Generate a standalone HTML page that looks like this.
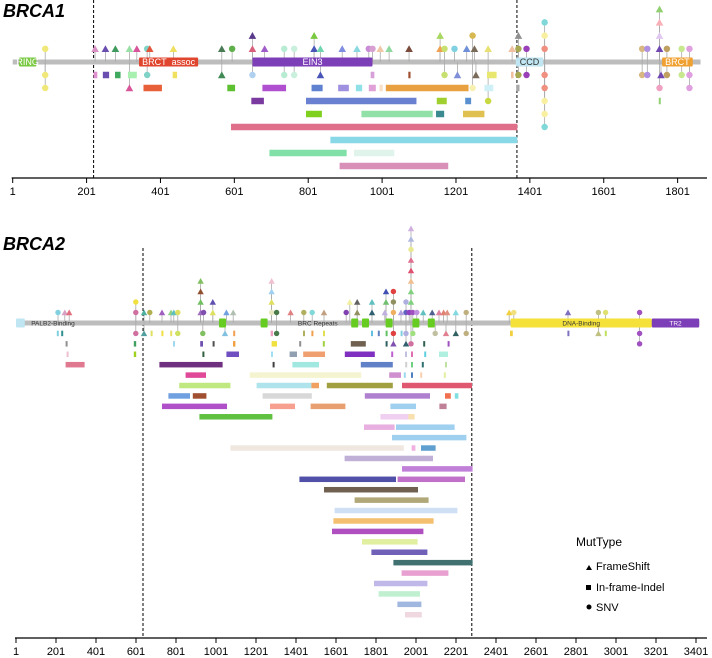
<!DOCTYPE html>
<html><head><meta charset="utf-8">
<style>
html,body{margin:0;padding:0;background:#fff;}
svg{display:block;font-family:"Liberation Sans",Arial,sans-serif;}
</style></head>
<body>
<svg id="chart" width="712" height="658" viewBox="0 0 712 658" xmlns="http://www.w3.org/2000/svg">
<text x="3" y="17" font-size="18" font-weight="bold" font-style="italic">BRCA1</text>
<text x="3" y="250" font-size="18" font-weight="bold" font-style="italic">BRCA2</text>
<g>
<text x="576" y="546" font-size="12">MutType</text>
<polygon points="586,570 592,570 589,565" fill="#000"/>
<text x="596" y="570" font-size="11">FrameShift</text>
<rect x="586" y="585" width="5" height="5" fill="#000"/>
<text x="596" y="591" font-size="11">In-frame-Indel</text>
<circle cx="589" cy="607" r="2.5" fill="#000"/>
<text x="596" y="611" font-size="11">SNV</text>
</g>
</svg>
<script>
const brca1Ticks = [1,201,401,601,801,1001,1201,1401,1601,1801];
const brca2Ticks = [1,201,401,601,801,1001,1201,1401,1601,1801,2001,2201,2401,2601,2801,3001,3201,3401];
const brca1Domains = [[18,65,'RING','#7ac943'],[343,503,'BRCT_assoc','#e0452e'],[650,975,'EIN3','#7d3fb8'],[1363,1437,'CCD','#bfe6f2'],[1759,1842,'BRCT','#f0a030']];
const brca2Domains = [[1,45,'','#bfe6f2'],[1016,1051,'','#66cc22'],[1224,1259,'','#66cc22'],[1677,1712,'','#66cc22'],[1731,1766,'','#66cc22'],[1849,1884,'','#66cc22'],[1983,2018,'','#66cc22'],[2060,2095,'','#66cc22'],[2474,3180,'DNA-Binding','#f4e23a'],[3180,3417,'TR2','#7d3fb8']];
const brca1Dashes = [220,1366];
const brca2Dashes = [636,2280];
const brca1Markers = [
[89,1,'c','#f0e878'],[224,1,'t','#d98fc3'],[252,1,'t','#6a4fb0'],[279,1,'t','#3f9a5e'],[317,1,'t','#98e0a6'],[337,1,'t','#d9559a'],[365,1,'c','#7fd3c6'],[372,1,'t','#e2563d'],[436,1,'t','#f0e060'],[567,1,'t','#4a7b55'],[595,1,'c','#5fb04a'],[650,1,'t','#d9607a'],[683,1,'t','#a05cc8'],[736,1,'c','#b7ecd3'],[763,1,'c','#c9f0dc'],[817,1,'t','#4a55b8'],[834,1,'t','#6fd6b0'],[893,1,'t','#7f8ee0'],[933,1,'t','#8ad8e0'],[965,1,'c','#c98ad8'],[975,1,'c','#d8a0d0'],[996,1,'t','#f0c8a8'],[1020,1,'t','#8fd8a0'],[1074,1,'t','#7a4a3a'],[1158,1,'t','#f0a050'],[1170,1,'c','#c8e070'],[1197,1,'c','#7fd0e0'],[1230,1,'t','#6f90d8'],[1251,1,'t','#7a6a5a'],[1288,1,'t','#e8e070'],[1353,1,'t','#f0c0a0'],[1370,1,'c','#a8a850'],[1392,1,'c','#9a40b8'],[1441,1,'c','#f09080'],[1705,1,'c','#d8b880'],[1719,1,'c','#b090e0'],[1752,1,'t','#7048b0'],[1772,1,'c','#c0a060'],[1812,1,'c','#c8e890'],[1833,1,'c','#e0a0e0'],
[650,2,'t','#5a3a8a'],[817,2,'t','#78c840'],[1158,2,'t','#a8d860'],[1246,2,'c','#d8b850'],[1370,2,'t','#909090'],[1441,2,'c','#f8f0a0'],[1752,2,'t','#e0c8f0'],
[1441,3,'c','#80d8d8'],[1752,3,'t','#f8b0b8'],[1752,4,'t','#90d070'],
[89,-1,'c','#f0e878'],[365,-1,'c','#7fd3c6'],[567,-1,'t','#3f8a55'],[650,-1,'c','#b0d0f0'],[736,-1,'c','#b7ecd3'],[763,-1,'c','#c9f0dc'],[834,-1,'t','#4a55b8'],[1170,-1,'c','#c8e070'],[1205,-1,'t','#7f90d8'],[1255,-1,'t','#7a6a5a'],[1370,-1,'c','#a8a850'],[1392,-1,'c','#9a40b8'],[1441,-1,'c','#f09080'],[1705,-1,'c','#d8b880'],[1719,-1,'c','#b090e0'],[1756,-1,'t','#7048b0'],[1772,-1,'c','#c0a060'],[1812,-1,'c','#c8e890'],[1833,-1,'c','#e0a0e0'],
[89,-2,'c','#f0e878'],[317,-2,'t','#d9559a'],[1246,-2,'c','#f8f0b0'],[1441,-2,'c','#f09080'],[1752,-2,'c','#f0a0c0'],[1833,-2,'c','#e0a0e0'],
[1288,-3,'c','#c8d840'],[1441,-3,'c','#f8f0a0'],[1441,-4,'c','#f8f0a0'],[1441,-5,'c','#80d8d8']];
const brca1Bars = [
[220,230,1,'#e090d0'],[245,262,1,'#6a4fb0'],[278,293,1,'#3faa5e'],[313,337,1,'#a8f0b0'],[434,446,1,'#f0e060'],[970,980,1,'#d8a0d8'],[1072,1078,1,'#a05030'],[1285,1311,1,'#e8e870'],[1350,1357,1,'#f0c0a0'],
[355,405,2,'#e8603a'],[582,603,2,'#5cc030'],[677,741,2,'#b050d0'],[810,840,2,'#6080d0'],[882,911,2,'#a090e0'],[930,947,2,'#90e0e8'],[965,984,2,'#e0a0d8'],[994,1003,2,'#f8e0c8'],[1011,1235,2,'#e8a040'],[1278,1302,2,'#d0f0f8'],[1364,1373,2,'#a8a8a8'],
[647,681,3,'#7a3aa0'],[795,1094,3,'#6a80d0'],[1149,1176,3,'#a0d030'],[1226,1242,3,'#5a90d0'],[1750,1755,3,'#90d070'],
[795,838,4,'#80d020'],[945,1138,4,'#90e0a8'],[1147,1169,4,'#3a8a90'],[1220,1278,4,'#e0c050'],
[592,1367,5,'#e0708a'],[861,1367,6,'#88d8e8'],[696,905,7,'#80e0a8'],[925,1034,7,'#e0f4ec'],[886,1180,8,'#d890b8']];
const brca2Markers = [
[211,1,'c','#80d0e0'],[245,1,'t','#d8a0c0'],[267,1,'t','#e07080'],[600,1,'c','#d070a0'],[641,1,'t','#50b0a0'],[670,1,'c','#b0b050'],[731,1,'t','#a060c0'],[776,1,'t','#90d080'],[790,1,'t','#60c0c0'],[810,1,'c','#e0e060'],[924,1,'t','#a070c0'],[939,1,'c','#8050b0'],[985,1,'t','#e0e060'],[1053,1,'t','#70a0e0'],[1087,1,'t','#b0c0b0'],[1279,1,'c','#e8e8c0'],[1304,1,'c','#4a7a4a'],[1374,1,'t','#e08080'],[1440,1,'c','#b0b060'],[1482,1,'c','#80d8d8'],[1541,1,'t','#c0a080'],[1652,1,'c','#8040b0'],[1707,1,'t','#909060'],[1781,1,'t','#306070'],[1845,1,'t','#c0b0e0'],[1888,1,'c','#f0b060'],[1926,1,'t','#b0a0e0'],[1951,1,'c','#6060c0'],[1967,1,'c','#9040c0'],[1985,1,'c','#a050c0'],[2005,1,'c','#c090e0'],[2037,1,'t','#60c0c0'],[2082,1,'t','#506090'],[2116,1,'t','#e080a0'],[2139,1,'t','#e08070'],[2157,1,'t','#e09080'],[2200,1,'t','#80d8e0'],[2252,1,'c','#c0b080'],[2467,1,'t','#f0d040'],[2490,1,'c','#f0e080'],[2761,1,'t','#8070c0'],[2913,1,'c','#c0c080'],[2949,1,'c','#e0e070'],[3119,1,'c','#a050c0'],
[600,2,'c','#f0e040'],[924,2,'t','#70c060'],[985,2,'t','#6050b0'],[1279,2,'t','#e0e060'],[1670,2,'t','#f0f0a0'],[1707,2,'t','#606060'],[1781,2,'t','#60c0c0'],[1851,2,'t','#70c070'],[1888,2,'c','#909060'],[1951,2,'c','#b0b0e0'],[1976,2,'t','#80d080'],
[924,3,'t','#905030'],[1279,3,'t','#a0d0f0'],[1851,3,'t','#4050b0'],[1888,3,'c','#e04040'],[1976,3,'t','#80d080'],
[924,4,'t','#80c060'],[1279,4,'t','#f0c0d0'],[1976,4,'t','#f0c090'],
[1976,5,'t','#e05070'],[1976,6,'t','#e07090'],[1976,7,'c','#e8e890'],[1976,8,'t','#b0b8e0'],[1976,9,'t','#d0b0e0'],
[600,-1,'c','#d070a0'],[641,-1,'t','#50a0a0'],[810,-1,'c','#d0e060'],[935,-1,'c','#80c060'],[1046,-1,'t','#80c0e0'],[1304,-1,'c','#4a7a4a'],[1888,-1,'c','#e04040'],[1951,-1,'c','#b0b0e0'],[1985,-1,'c','#a0e080'],[2097,-1,'c','#c0c0a0'],[2151,-1,'t','#e08090'],[2200,-1,'t','#306060'],[2252,-1,'c','#c0b080'],[2913,-1,'t','#c0c080'],[3119,-1,'c','#a050c0'],
[1888,-2,'t','#8050b0'],[1951,-2,'t','#306070'],[1976,-2,'c','#d070a0'],[3119,-2,'c','#a050c0']];
const brca2Bars = [
[205,215,1,'#80d0e0'],[227,235,1,'#309090'],[674,684,1,'#e0e060'],[728,738,1,'#f0e040'],[772,782,1,'#e8e060'],[1087,1097,1,'#f0a050'],[1274,1286,1,'#f0a0c0'],[1436,1446,1,'#b0b060'],[1478,1488,1,'#f0a050'],[1536,1546,1,'#e0e050'],[1776,1780,1,'#60c0e0'],[1810,1814,1,'#6080c0'],[1849,1853,1,'#60c060'],[1924,1930,1,'#80d0e0'],[2471,2485,1,'#f0d040'],[2758,2765,1,'#8070c0'],[2945,2950,1,'#c0e060'],
[249,253,2,'#909090'],[590,602,2,'#40a060'],[786,790,2,'#a0d8f0'],[922,936,2,'#7050b0'],[984,988,2,'#505050'],[1086,1098,2,'#f0a040'],[1279,1306,2,'#f0e040'],[1417,1421,2,'#909090'],[1535,1539,2,'#a0d040'],[1675,1750,2,'#706050'],[1849,1853,2,'#306060'],[2037,2041,2,'#306050'],[2159,2163,2,'#a050c0'],
[254,258,3,'#f0c0d0'],[590,602,3,'#a0d020'],[933,937,3,'#306040'],[1053,1116,3,'#7050c0'],[1276,1284,3,'#a0e0f0'],[1369,1406,3,'#90a0b0'],[1437,1546,3,'#f0a070'],[1645,1795,3,'#8030c0'],[1877,1885,3,'#c060d0'],[1946,1952,3,'#c0c0e0'],[1976,1984,3,'#e070b0'],[2042,2046,3,'#60d0e0'],[2116,2161,3,'#b0f0e0'],
[249,344,4,'#e07890'],[718,1034,4,'#703080'],[1284,1288,4,'#404040'],[1383,1516,4,'#a0e8e0'],[1725,1885,4,'#6080c8'],[1947,1955,4,'#d0d0d0'],[1976,1984,4,'#70d080'],[2030,2040,4,'#307070'],[2146,2154,4,'#c0e0a0'],
[849,951,5,'#e04898'],[1170,1727,5,'#f4f4d0'],[1867,1926,5,'#d090d0'],[1940,1948,5,'#a0d8f0'],[1976,1984,5,'#5080c0'],[2022,2030,5,'#f8d0b0'],[2140,2146,5,'#e0f0a0'],
[817,1073,6,'#c0e880'],[1204,1478,6,'#b0e4ec'],[1478,1516,6,'#f0a060'],[1555,1885,6,'#a0a040'],[1931,2281,6,'#e05870'],
[763,871,7,'#70a0e0'],[885,953,7,'#a05030'],[1234,1480,7,'#d8d8d8'],[1745,2071,7,'#b080d0'],[2146,2175,7,'#f07050'],[2195,2213,7,'#80e0e0'],
[731,1056,8,'#b050c8'],[1271,1396,8,'#f8a090'],[1474,1648,8,'#e8a070'],[1873,2001,8,'#a0d0f0'],[2118,2154,8,'#c08098'],
[918,1283,9,'#60c040'],[1823,1963,9,'#f0d0f0'],[1963,1994,9,'#f8e0b0'],
[1741,1894,10,'#e8b0e0'],[1901,2194,10,'#a0d0f0'],[1881,2253,11,'#a0d0f0'],
[1073,1940,12,'#f0e8e0'],[1979,1998,12,'#f0b0e0'],[2026,2099,12,'#60a0d0'],
[1644,2086,13,'#c0b0d8'],[1931,2284,14,'#c080d8'],[1418,1901,15,'#5050a8'],[1909,2246,15,'#c070c8'],
[1541,2011,16,'#706050'],[1694,2064,17,'#b0a878'],[1594,2208,18,'#d0e0f4'],[1588,2089,19,'#f4c070'],[1581,2038,20,'#b050c0'],[1731,2009,21,'#e0f0a0'],[1778,2058,22,'#7060b8'],[1888,2284,23,'#407070'],[1929,2163,24,'#e8a0d0'],[1791,2058,25,'#c0b8e8'],[1814,2021,26,'#c0f0d0'],[1908,2028,27,'#a0b8e0'],[1946,2030,28,'#f0d8e0']];

const NS='http://www.w3.org/2000/svg';
const svg=document.getElementById('chart');
function mk(tag,attrs,parent){const e=document.createElementNS(NS,tag);for(const k in attrs)e.setAttribute(k,attrs[k]);(parent||svg).appendChild(e);return e;}

function drawGene(cfg){
  const g=mk('g',{});
  
  
  const X=a=>cfg.x0+(a-1)*cfg.k;
  cfg.dashes.forEach(d=>{const l=mk('line',{x1:X(d),x2:X(d),y1:cfg.dashTop,y2:cfg.axisY,stroke:'#000','stroke-width':1,'stroke-dasharray':'3,2'},g);
    
    });
  const bb=mk('rect',{x:X(1),y:cfg.bbY-2.5,width:X(cfg.len)-X(1),height:5,fill:'#bdbdbd'},g);
  
  
  cfg.markers.forEach(m=>{const y=m[1]>0?cfg.bbY-m[1]*cfg.up:cfg.bbY-m[1]*cfg.dn;
    const l=mk('line',{x1:X(m[0]),x2:X(m[0]),y1:cfg.bbY,y2:y,stroke:'#aaaaaa','stroke-width':0.8},g);
    
    });
  cfg.domains.forEach(d=>{const r=mk('rect',{x:X(d[0]),y:cfg.bbY-4.5,width:X(d[1])-X(d[0]),height:9,fill:d[3],rx:1},g);
    
    
    if(d[2]){const t=mk('text',{x:(X(d[0])+X(d[1]))/2,y:cfg.bbY+cfg.fs/2.8,'text-anchor':'middle','font-size':cfg.fs,fill:d[3]=='#f4e23a'||d[3]=='#bfe6f2'?'#333':'#fff'},g);t.textContent=d[2];
      
      }
  });
  (cfg.extraLabels||[]).forEach(e=>{const t=mk('text',{x:X(e[0]),y:cfg.bbY+cfg.fs/2.8,'text-anchor':'middle','font-size':cfg.fs,fill:'#333'},g);t.textContent=e[1];
    
    });
  cfg.bars.forEach(b=>{const y=cfg.bbY+b[2]*cfg.dn;const w=Math.max(2,X(b[1])-X(b[0]));
    const r=mk('rect',{x:X(b[0]),y:y-cfg.bh/2,width:w,height:cfg.bh,fill:b[3]},g);
    
    });
  const s=cfg.ms;
  cfg.markers.forEach(m=>{const x=X(m[0]);const y=m[1]>0?cfg.bbY-m[1]*cfg.up:cfg.bbY-m[1]*cfg.dn;let e;
    if(m[2]=='t'){e=mk('polygon',{points:`${x-s},${y+s*0.85} ${x+s},${y+s*0.85} ${x},${y-s*0.95}`,fill:m[3]},g);
      }
    else{e=mk('circle',{cx:x,cy:y,r:s*0.85,fill:m[3]},g);
      }
    });
  const ax=mk('line',{x1:X(1)-1,x2:707,y1:cfg.axisY,y2:cfg.axisY,stroke:'#000','stroke-width':1.2},g);
  
  
  cfg.ticks.forEach(t=>{const tl=mk('line',{x1:X(t),x2:X(t),y1:cfg.axisY,y2:cfg.axisY+5,stroke:'#000','stroke-width':1},g);
    
    
    const tx=mk('text',{x:X(t),y:cfg.axisY+17,'text-anchor':'middle','font-size':11},g);tx.textContent=t;
    
    });
}
drawGene({name:'brca1',x0:12.7,k:0.3694,len:1863,bbY:62,up:13.2,dn:13,bh:6.5,ms:3.8,fs:9,axisY:178,dashTop:0,
  dashes:brca1Dashes,domains:brca1Domains,markers:brca1Markers,bars:brca1Bars,ticks:brca1Ticks});
drawGene({name:'brca2',x0:16,k:0.2,len:3418,bbY:323,up:10.5,dn:10.42,bh:5.5,ms:3.2,fs:6.5,axisY:638,dashTop:248,
  dashes:brca2Dashes,domains:brca2Domains,markers:brca2Markers,bars:brca2Bars,ticks:brca2Ticks,
  extraLabels:[[186,'PALB2-Binding'],[1510,'BRC Repeats']]});
</script>
</body></html>
